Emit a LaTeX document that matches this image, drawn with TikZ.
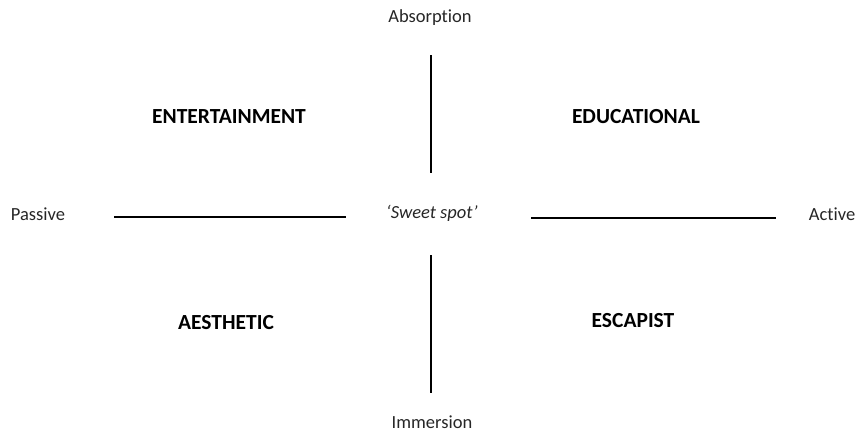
\documentclass[tikz,border=0pt]{standalone}
\usepackage{fontspec}
\setmainfont{Carlito}[RawFeature={-liga;-dlig}]
\begin{document}
\begin{tikzpicture}[x=1pt,y=-1pt,
  axis/.style={line width=2.6pt, black},
  lbl/.style={font=\fontsize{18.5}{21}\selectfont, text=black!85, inner sep=0pt},
  quad/.style={font=\fontsize{21.5}{24}\selectfont\bfseries, inner sep=0pt}]
\useasboundingbox (0,0) rectangle (857,432);
\node[lbl] (abs) at (430,18) {Absorption};
\node[lbl] (imm) at (432,422) {Immersion};
\node[lbl] (pas) at (38,214) {Passive};
\node[lbl] (act) at (832,214) {Active};
\node[lbl, font=\fontsize{18.5}{21}\selectfont\itshape] (sweet) at (432,213) {‘Sweet spot’};
\node[quad] (ent) at (229,117) {ENTERTAINMENT};
\node[quad] (edu) at (636,117) {EDUCATIONAL};
\node[quad] (aes) at (226,323) {AESTHETIC};
\node[quad] (esc) at (633,321) {ESCAPIST};
\coordinate (t1) at (431,55); \coordinate (t2) at (431,173);
\coordinate (b1) at (431,255); \coordinate (b2) at (431,393);
\coordinate (l1) at (114,217); \coordinate (l2) at (346,217);
\coordinate (r1) at (531,218); \coordinate (r2) at (776,218);
\draw[axis] (t1) -- (t2);
\draw[axis] (b1) -- (b2);
\draw[axis] (l1) -- (l2);
\draw[axis] (r1) -- (r2);
\end{tikzpicture}
\end{document}
